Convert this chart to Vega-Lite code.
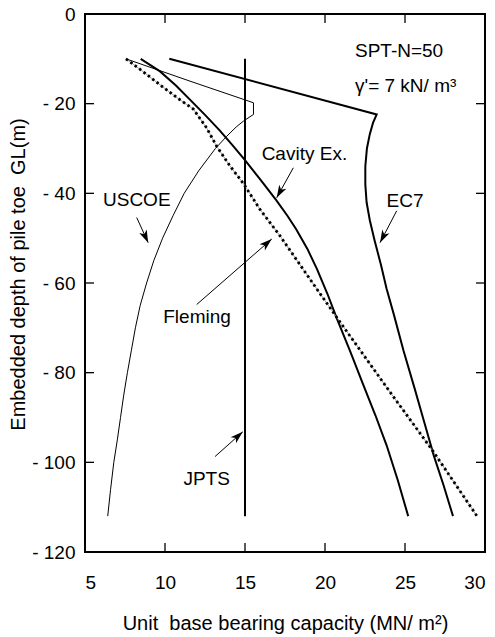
{
  "$schema": "https://vega.github.io/schema/vega-lite/v6.json",
  "width": 400,
  "height": 538,
  "autosize": "none",
  "padding": {"left": 85, "top": 14, "right": 10, "bottom": 85},
  "config": {
    "view": {"stroke": "black", "strokeWidth": 2},
    "font": "Liberation Sans",
    "axis": {
      "domain": false,
      "grid": false,
      "ticks": false,
      "tickSize": 0,
      "labelFont": "Liberation Sans",
      "labelFontSize": 19,
      "labelColor": "black",
      "titleFont": "Liberation Sans",
      "titleFontSize": 20,
      "titleFontWeight": "normal",
      "titleColor": "black"
    }
  },
  "datasets": {
    "curves": [
      {"s": "EC7", "x": 10.27, "d": -10},
      {"s": "EC7", "x": 23.23, "d": -22.4},
      {"s": "EC7", "x": 23.0, "d": -24.3},
      {"s": "EC7", "x": 22.8, "d": -26.8},
      {"s": "EC7", "x": 22.62, "d": -30},
      {"s": "EC7", "x": 22.52, "d": -34},
      {"s": "EC7", "x": 22.52, "d": -38},
      {"s": "EC7", "x": 22.6, "d": -42},
      {"s": "EC7", "x": 22.8, "d": -46},
      {"s": "EC7", "x": 23.1, "d": -50.5},
      {"s": "EC7", "x": 23.5, "d": -56},
      {"s": "EC7", "x": 23.85, "d": -61.3},
      {"s": "EC7", "x": 24.3, "d": -67},
      {"s": "EC7", "x": 24.9, "d": -75},
      {"s": "EC7", "x": 25.6, "d": -83.5},
      {"s": "EC7", "x": 26.2, "d": -91},
      {"s": "EC7", "x": 26.8, "d": -98.5},
      {"s": "EC7", "x": 27.4, "d": -105},
      {"s": "EC7", "x": 28.0, "d": -112},
      {"s": "Cavity", "x": 8.48, "d": -10},
      {"s": "Cavity", "x": 9.69, "d": -12.8},
      {"s": "Cavity", "x": 10.7, "d": -16},
      {"s": "Cavity", "x": 11.56, "d": -19.1},
      {"s": "Cavity", "x": 12.5, "d": -22.5},
      {"s": "Cavity", "x": 13.4, "d": -25.9},
      {"s": "Cavity", "x": 14.2, "d": -29.2},
      {"s": "Cavity", "x": 15.0, "d": -32.6},
      {"s": "Cavity", "x": 15.95, "d": -36.9},
      {"s": "Cavity", "x": 16.95, "d": -41.5},
      {"s": "Cavity", "x": 17.65, "d": -45},
      {"s": "Cavity", "x": 18.2, "d": -48},
      {"s": "Cavity", "x": 18.9, "d": -52.4},
      {"s": "Cavity", "x": 19.5, "d": -56.9},
      {"s": "Cavity", "x": 20.15, "d": -62.4},
      {"s": "Cavity", "x": 20.75, "d": -68},
      {"s": "Cavity", "x": 21.6, "d": -75.5},
      {"s": "Cavity", "x": 22.4, "d": -82.8},
      {"s": "Cavity", "x": 23.15, "d": -89.5},
      {"s": "Cavity", "x": 23.85, "d": -96.2},
      {"s": "Cavity", "x": 24.55, "d": -104},
      {"s": "Cavity", "x": 25.2, "d": -112},
      {"s": "JPTS", "x": 15, "d": -10},
      {"s": "JPTS", "x": 15, "d": -112},
      {"s": "USCOE", "x": 7.56, "d": -10},
      {"s": "USCOE", "x": 11.5, "d": -14.9},
      {"s": "USCOE", "x": 15.53, "d": -19.8},
      {"s": "USCOE", "x": 15.53, "d": -22.4},
      {"s": "USCOE", "x": 14.9, "d": -23.9},
      {"s": "USCOE", "x": 14.45, "d": -25.2},
      {"s": "USCOE", "x": 13.85, "d": -27.3},
      {"s": "USCOE", "x": 13.15, "d": -30},
      {"s": "USCOE", "x": 12.1, "d": -35},
      {"s": "USCOE", "x": 11.2, "d": -40},
      {"s": "USCOE", "x": 10.5, "d": -45},
      {"s": "USCOE", "x": 9.85, "d": -50},
      {"s": "USCOE", "x": 9.3, "d": -55},
      {"s": "USCOE", "x": 8.85, "d": -60},
      {"s": "USCOE", "x": 8.45, "d": -65},
      {"s": "USCOE", "x": 8.15, "d": -70},
      {"s": "USCOE", "x": 7.9, "d": -75},
      {"s": "USCOE", "x": 7.65, "d": -80},
      {"s": "USCOE", "x": 7.42, "d": -85},
      {"s": "USCOE", "x": 7.22, "d": -90},
      {"s": "USCOE", "x": 7.02, "d": -95},
      {"s": "USCOE", "x": 6.8, "d": -100},
      {"s": "USCOE", "x": 6.6, "d": -106},
      {"s": "USCOE", "x": 6.42, "d": -112},
      {"s": "Fleming", "x": 7.56, "d": -10},
      {"s": "Fleming", "x": 8.5, "d": -12.5},
      {"s": "Fleming", "x": 9.69, "d": -15.8},
      {"s": "Fleming", "x": 10.8, "d": -18.8},
      {"s": "Fleming", "x": 11.77, "d": -21.2},
      {"s": "Fleming", "x": 12.6, "d": -25.4},
      {"s": "Fleming", "x": 13.23, "d": -29.5},
      {"s": "Fleming", "x": 14.06, "d": -33.9},
      {"s": "Fleming", "x": 14.9, "d": -37.8},
      {"s": "Fleming", "x": 15.94, "d": -43.6},
      {"s": "Fleming", "x": 17.19, "d": -49.5},
      {"s": "Fleming", "x": 19.48, "d": -61.3},
      {"s": "Fleming", "x": 20.8, "d": -68},
      {"s": "Fleming", "x": 24.06, "d": -84.3},
      {"s": "Fleming", "x": 26.77, "d": -97.6},
      {"s": "Fleming", "x": 29.5, "d": -112}
    ],
    "labels": [
      {"text": "SPT-N=50", "x": 21.875, "d": -8.2},
      {"text": "γ'= 7 kN/ m³", "x": 21.875, "d": -16},
      {"text": "Cavity Ex.", "x": 16.04, "d": -31.3},
      {"text": "EC7", "x": 23.85, "d": -41.7},
      {"text": "USCOE", "x": 6.125, "d": -41.5},
      {"text": "Fleming", "x": 9.89, "d": -67.6},
      {"text": "JPTS", "x": 11.15, "d": -103.7}
    ],
    "arrows": [
      {"a": "USCOE", "xs": 8.23, "ds": -45.4, "xt": 8.95, "dt": -51},
      {"a": "Cavity", "xs": 18.02, "ds": -34.3, "xt": 16.98, "dt": -41},
      {"a": "EC7", "xs": 24.48, "ds": -43.9, "xt": 23.44, "dt": -51},
      {"a": "Fleming", "xs": 11.98, "ds": -64.8, "xt": 16.67, "dt": -50.2},
      {"a": "JPTS", "xs": 13.13, "ds": -98.7, "xt": 14.86, "dt": -93.2}
    ],
    "xticks": [{"v": 10}, {"v": 15}, {"v": 20}, {"v": 25}],
    "yticks": [{"v": -20}, {"v": -40}, {"v": -60}, {"v": -80}, {"v": -100}]
  },
  "layer": [
    {
      "data": {"name": "curves"},
      "transform": [{"filter": "datum.s === 'EC7' || datum.s === 'Cavity' || datum.s === 'JPTS'"}],
      "mark": {"type": "line", "color": "black", "strokeWidth": 2},
      "encoding": {
        "x": {
          "field": "x", "type": "quantitative",
          "scale": {"domain": [5, 30], "nice": false, "zero": false},
          "axis": {
            "orient": "bottom",
            "values": [5, 10, 15, 20, 25, 30],
            "labelPadding": 21,
            "title": "Unit \u00a0base bearing capacity (MN/ m²)",
            "titleY": 77,
            "titleBaseline": "alphabetic"
          }
        },
        "y": {
          "field": "d", "type": "quantitative",
          "scale": {"domain": [-120, 0], "nice": false, "zero": false},
          "axis": {
            "orient": "left",
            "values": [0, -20, -40, -60, -80, -100, -120],
            "labelPadding": 10,
            "labelExpr": "datum.value < 0 ? '- ' + (-datum.value) : datum.label",
            "title": "Embedded depth of pile toe \u00a0GL(m)",
            "titleX": -67,
            "titleY": 260,
            "titleAngle": -90,
            "titleBaseline": "middle",
            "titleAlign": "center"
          }
        },
        "detail": {"field": "s"},
        "order": {"value": null}
      }
    },
    {
      "data": {"name": "xticks"},
      "mark": {"type": "rule", "color": "black", "strokeWidth": 1.3},
      "encoding": {
        "x": {"field": "v", "type": "quantitative"},
        "y": {"datum": 0, "type": "quantitative"},
        "y2": {"datum": -2}
      }
    },
    {
      "data": {"name": "xticks"},
      "mark": {"type": "rule", "color": "black", "strokeWidth": 1.3},
      "encoding": {
        "x": {"field": "v", "type": "quantitative"},
        "y": {"datum": -120, "type": "quantitative"},
        "y2": {"datum": -118}
      }
    },
    {
      "data": {"name": "yticks"},
      "mark": {"type": "rule", "color": "black", "strokeWidth": 1.3},
      "encoding": {
        "y": {"field": "v", "type": "quantitative"},
        "x": {"datum": 5, "type": "quantitative"},
        "x2": {"datum": 5.5625}
      }
    },
    {
      "data": {"name": "yticks"},
      "mark": {"type": "rule", "color": "black", "strokeWidth": 1.3},
      "encoding": {
        "y": {"field": "v", "type": "quantitative"},
        "x": {"datum": 30, "type": "quantitative"},
        "x2": {"datum": 29.4375}
      }
    },
    {
      "data": {"name": "curves"},
      "transform": [{"filter": "datum.s === 'USCOE'"}],
      "mark": {"type": "line", "color": "black", "strokeWidth": 1},
      "encoding": {
        "x": {"field": "x", "type": "quantitative"},
        "y": {"field": "d", "type": "quantitative"},
        "order": {"value": null}
      }
    },
    {
      "data": {"name": "curves"},
      "transform": [{"filter": "datum.s === 'Fleming'"}],
      "mark": {"type": "line", "color": "#888888", "strokeWidth": 0.8},
      "encoding": {
        "x": {"field": "x", "type": "quantitative"},
        "y": {"field": "d", "type": "quantitative"},
        "order": {"value": null}
      }
    },
    {
      "data": {"name": "curves"},
      "transform": [{"filter": "datum.s === 'Fleming'"}],
      "mark": {"type": "line", "color": "black", "strokeWidth": 2.8, "strokeDash": [2.5, 3]},
      "encoding": {
        "x": {"field": "x", "type": "quantitative"},
        "y": {"field": "d", "type": "quantitative"},
        "order": {"value": null}
      }
    },
    {
      "data": {"name": "arrows"},
      "mark": {"type": "rule", "color": "black", "strokeWidth": 1},
      "encoding": {
        "x": {"field": "xs", "type": "quantitative"},
        "y": {"field": "ds", "type": "quantitative"},
        "x2": {"field": "xt"},
        "y2": {"field": "dt"}
      }
    },
    {
      "data": {"name": "arrows"},
      "transform": [
        {"calculate": "atan2((datum.xt - datum.xs) * 16, (datum.dt - datum.ds) * 4.483) * 180 / PI", "as": "ang"}
      ],
      "mark": {
        "type": "point",
        "shape": "M0,0L0.55,1.7L0,1.25L-0.55,1.7Z",
        "filled": true,
        "color": "black",
        "opacity": 1,
        "size": 220,
        "strokeWidth": 0
      },
      "encoding": {
        "x": {"field": "xt", "type": "quantitative"},
        "y": {"field": "dt", "type": "quantitative"},
        "angle": {"field": "ang", "type": "quantitative", "scale": null}
      }
    },
    {
      "data": {"name": "labels"},
      "mark": {"type": "text", "align": "left", "baseline": "middle", "fontSize": 19, "font": "Liberation Sans", "color": "black"},
      "encoding": {
        "x": {"field": "x", "type": "quantitative"},
        "y": {"field": "d", "type": "quantitative"},
        "text": {"field": "text"}
      }
    }
  ]
}
